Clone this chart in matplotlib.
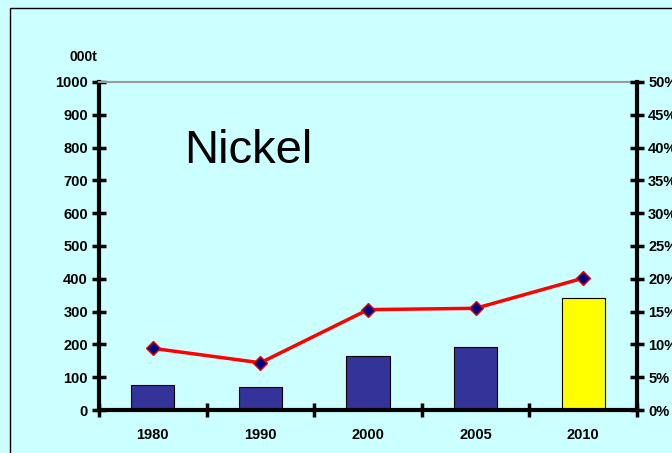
import matplotlib.pyplot as plt
from matplotlib.patches import Rectangle

plt.rcParams['font.family'] = ['Liberation Sans', 'DejaVu Sans']

years = ['1980', '1990', '2000', '2005', '2010']
tonnes = [75, 69, 166, 193, 340]          # 000t, left axis
share = [9.4, 7.2, 15.3, 15.5, 20.1]      # %, right axis
bar_colors = ['#333399', '#333399', '#333399', '#333399', '#ffff00']

bg = '#ccffff'
fig = plt.figure(figsize=(6.72, 4.53), dpi=100, facecolor=bg)
# outer frame, runs off the right and bottom edges
fig.patches.append(Rectangle((10 / 672, -0.1), 1.1, 1 - 8 / 453 + 0.1,
                             transform=fig.transFigure, fill=False,
                             edgecolor='black', linewidth=1))

ax = fig.add_axes([99 / 672, 43 / 453, 538 / 672, 328 / 453])
ax.set_facecolor(bg)
x = list(range(len(years)))
ax.bar(x, tonnes, width=0.4, color=bar_colors, edgecolor='black', linewidth=0.8, zorder=2)
ax.set_xlim(-0.5, len(years) - 0.5)
ax.set_ylim(0, 1000)
ax.set_yticks(range(0, 1001, 100))
ax.set_xticks([i + 0.5 for i in range(-1, len(years))])
ax.set_xticklabels([])
ax.set_xticks(x, minor=True)
ax.set_xticklabels(years, minor=True)
ax.tick_params(axis='x', which='minor', length=0, pad=13)
ax.tick_params(axis='x', which='major', direction='inout', length=10, width=2.5)
ax.tick_params(axis='y', direction='inout', length=10, width=2.5, pad=3)
for lab in ax.get_yticklabels() + ax.get_xticklabels(minor=True):
    lab.set_fontweight('bold')
    lab.set_fontsize(10.5)
ax.spines['left'].set_linewidth(3)
ax.spines['bottom'].set_linewidth(3)
ax.spines['right'].set_visible(False)
ax.spines['top'].set_color('#999999')
ax.spines['top'].set_linewidth(1.5)

ax2 = ax.twinx()
ax2.plot(x, share, color='#ff0000', linewidth=2.5, marker='D', markersize=7,
         markerfacecolor='#000080', markeredgecolor='#ff0000', markeredgewidth=1, zorder=3)
ax2.set_ylim(0, 50)
ax2.set_yticks(range(0, 51, 5))
ax2.set_yticklabels([f'{v}%' for v in range(0, 51, 5)])
ax2.tick_params(axis='y', direction='inout', length=10, width=2.5, pad=3)
for lab in ax2.get_yticklabels():
    lab.set_fontweight('bold')
    lab.set_fontsize(10.5)
ax2.spines['right'].set_linewidth(3)
for s in ['left', 'top', 'bottom']:
    ax2.spines[s].set_visible(False)

fig.text(83 / 672, 1 - 57 / 453, '000t', fontsize=10, fontweight='bold', ha='center', va='center')
ax.text(0.158, 0.79, 'Nickel', transform=ax.transAxes, fontsize=34, va='center', ha='left')

fig.savefig('out.png', dpi=100, facecolor=bg)
